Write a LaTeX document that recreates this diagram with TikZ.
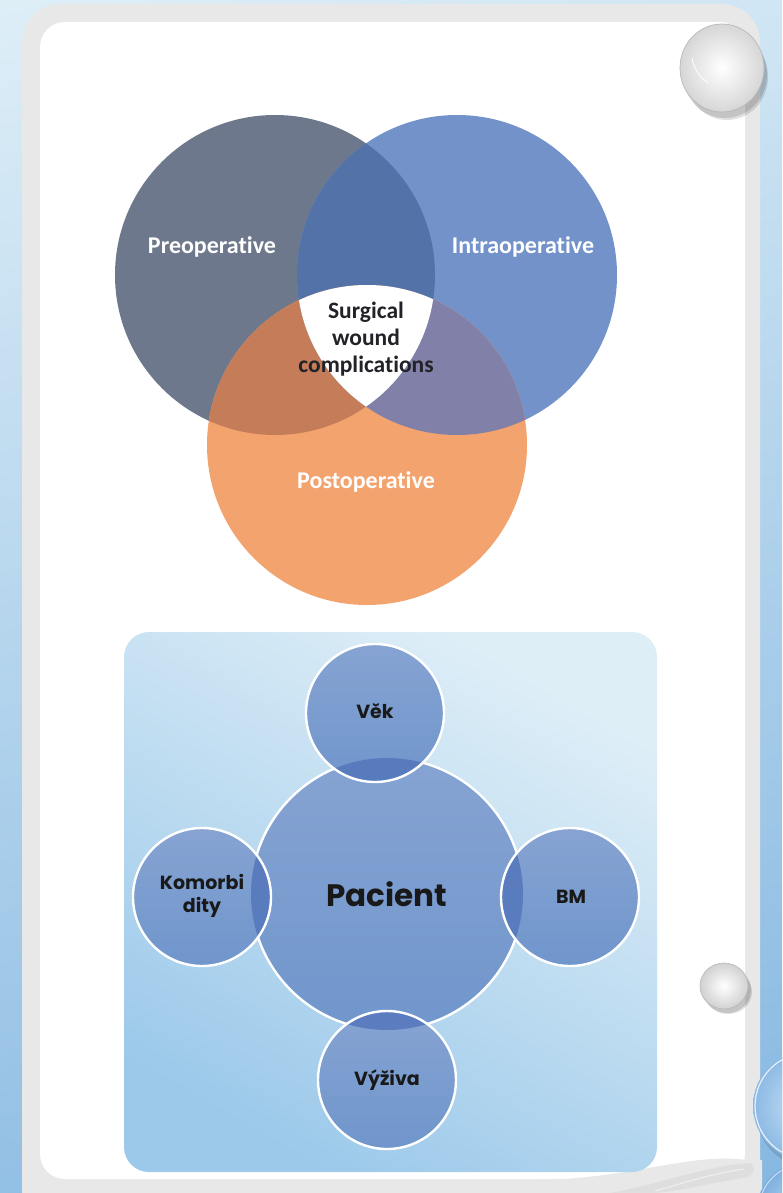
\documentclass[tikz,border=0pt]{standalone}
\usepackage{fontspec}
\setmainfont{Carlito}[Ligatures=NoCommon]
\newfontfamily\geo{Poppins}
\usetikzlibrary{shapes.geometric}

% page and frame
\definecolor{bgtop}{RGB}{226,241,248}
\definecolor{bgbot}{RGB}{128,180,224}
\definecolor{framegrey}{RGB}{232,232,232}
\definecolor{curlgrey}{RGB}{222,222,222}
% Venn colours
\definecolor{prec}{RGB}{110,120,140}
\definecolor{intrac}{RGB}{114,146,201}
\definecolor{postc}{RGB}{243,163,110}
\definecolor{preintra}{RGB}{82,114,168}
\definecolor{prepost}{RGB}{196,125,88}
\definecolor{intrapost}{RGB}{128,128,168}
\definecolor{centertext}{RGB}{34,34,40}
% patient diagram colours
\definecolor{paneltop}{RGB}{222,238,247}
\definecolor{panelbot}{RGB}{156,201,234}
\definecolor{discA}{RGB}{134,163,210}
\definecolor{discB}{RGB}{112,150,204}
\definecolor{lens}{RGB}{84,119,188}
% glass bubbles
\definecolor{glassin}{RGB}{205,228,246}
\definecolor{glassout}{RGB}{140,185,228}
\definecolor{glassinB}{RGB}{190,218,242}
\definecolor{glassoutB}{RGB}{125,175,222}

\tikzset{
  vennlabel/.style={text=white, font=\fontsize{24}{28}\selectfont\bfseries, inner sep=0pt},
  disctext/.style={text=black!90, font=\geo\fontsize{19}{23}\selectfont\bfseries, align=center, inner sep=0pt},
  discedge/.style={draw=white, line width=2.4pt},
  bubbleshadow/.style={fill=black, opacity=0.12},
}

\begin{document}
\begin{tikzpicture}[x=1pt,y=-1pt]
\useasboundingbox (0,0) rectangle (782,1193);
\begin{scope}
\clip (0,0) rectangle (782,1193);

% page background
\shade[top color=bgtop, bottom color=bgbot, shading angle=15] (-200,-200) rectangle (1000,1400);

% grey frame and white sheet
\fill[framegrey, rounded corners=38pt] (22,4) rectangle (760,1230);
\fill[white, rounded corners=25pt] (40,22) rectangle (745,1179);

% curled lower-right corner of the sheet
\fill[framegrey] (530,1180) .. controls (630,1180) and (690,1152) .. (746,1160)
  -- (762,1160) -- (762,1193) -- (530,1193) -- cycle;
\fill[curlgrey] (610,1193) .. controls (660,1184) and (705,1166) .. (750,1163)
  .. controls (756,1167) and (755,1173) .. (748,1177)
  .. controls (705,1184) and (672,1193) .. (650,1193) -- cycle;
\draw[white, line width=0.6pt, opacity=0.8] (655,1191) .. controls (690,1181) and (715,1173) .. (744,1169);

% ---------- Venn diagram ----------
\fill[prec]   (275,275) circle[radius=160pt];
\fill[intrac] (457,275) circle[radius=160pt];
\fill[postc]  (367,445) circle[radius=160pt];
\begin{scope}
  \clip (275,275) circle[radius=160pt];
  \fill[preintra] (457,275) circle[radius=160pt];
\end{scope}
\begin{scope}
  \clip (275,275) circle[radius=160pt];
  \fill[prepost] (367,445) circle[radius=160pt];
\end{scope}
\begin{scope}
  \clip (457,275) circle[radius=160pt];
  \fill[intrapost] (367,445) circle[radius=160pt];
\end{scope}
\begin{scope}
  \clip (275,275) circle[radius=160pt];
  \clip (457,275) circle[radius=160pt];
  \fill[white] (367,445) circle[radius=160pt];
\end{scope}

\node[vennlabel] (pre)   at (212,247) {Preoperative};
\node[vennlabel] (intra) at (523,247) {Intraoperative};
\node[vennlabel] (post)  at (366,482) {Postoperative};
\node[text=centertext, font=\fontsize{23.5}{27}\selectfont\bfseries, align=center, inner sep=0pt]
  (swc) at (366,339) {Surgical\\wound\\complications};

% ---------- patient factors ----------
\shade[rounded corners=25pt, top color=paneltop, bottom color=panelbot, shading angle=-30]
  (124,632) rectangle (657,1172);

\shade[top color=discA, bottom color=discB] (387,894) circle[radius=136pt];
\draw[discedge] (387,894) circle[radius=136pt];
\foreach \cx/\cy in {375/713, 202/897, 570/897, 387/1080}{
  \shade[top color=discA, bottom color=discB] (\cx,\cy) circle[radius=69pt];
  \begin{scope}
    \clip (387,894) circle[radius=136pt];
    \fill[lens, opacity=0.85] (\cx,\cy) circle[radius=69pt];
  \end{scope}
  \draw[discedge] (\cx,\cy) circle[radius=69pt];
}

\node[disctext, font=\geo\fontsize{31}{36}\selectfont\bfseries] (pacient) at (387,894) {Pacient};
\node[disctext] (vek)  at (375,711) {Věk};
\node[disctext] (kom)  at (202,896) {Komorbi\\dity};
\node[disctext] (bm)   at (571,897) {BM};
\node[disctext] (vyz)  at (387,1080) {Výživa};

% ---------- glass bubbles ----------
% top right
\fill[bubbleshadow] (725,74) ellipse [x radius=42pt, y radius=44pt];
\fill[bubbleshadow] (727,77) ellipse [x radius=41pt, y radius=43pt];
\shade[inner color=white, outer color=black!16] (722,68) ellipse [x radius=42pt, y radius=44pt];
\draw[black!28, line width=0.7pt] (722,68) ellipse [x radius=42pt, y radius=44pt];
\draw[white, line width=1pt, opacity=0.9] (692,58) arc[start angle=170, end angle=120, x radius=34pt, y radius=-36pt];
% middle right
\fill[bubbleshadow] (727,990) ellipse [x radius=24pt, y radius=23pt];
\fill[bubbleshadow] (728,992) ellipse [x radius=24pt, y radius=22pt];
\shade[inner color=white, outer color=black!18] (724,986) ellipse [x radius=24pt, y radius=23pt];
\draw[black!28, line width=0.6pt] (724,986) ellipse [x radius=24pt, y radius=23pt];
% lower right, blue glass
\fill[bubbleshadow] (812,1112) circle[radius=56pt];
\shade[inner color=glassin, outer color=glassout] (808,1106) circle[radius=55pt];
\draw[white, line width=1.2pt, opacity=0.8] (808,1106) circle[radius=53pt];
\shade[inner color=glassinB, outer color=glassoutB] (805,1210) circle[radius=48pt];
\draw[white, line width=1pt, opacity=0.6] (805,1210) circle[radius=46pt];
\end{scope}
\end{tikzpicture}
\end{document}
